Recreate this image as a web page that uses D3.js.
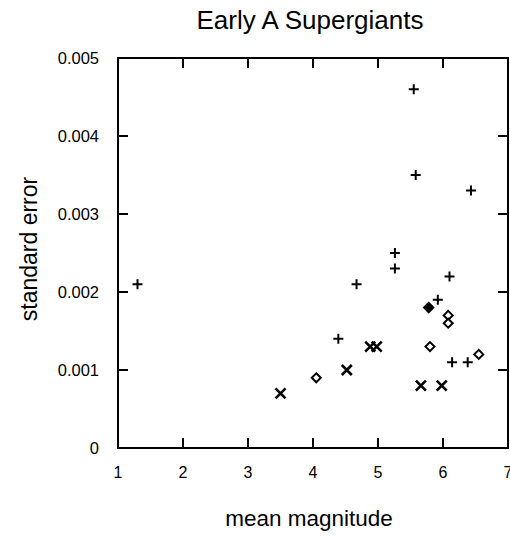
<!DOCTYPE html>
<html>
<head>
<meta charset="utf-8">
<script src="https://cdn.jsdelivr.net/npm/d3@7.9.0/dist/d3.min.js"></script>
<style>
  body { margin: 0; background: #fff; }
  text { font-family: "Liberation Sans", Arial, Helvetica, sans-serif; fill: #000; }
</style>
</head>
<body>
<svg id="chart" width="510" height="536"></svg>
<script>
// star groups: [mean magnitude, standard error]
const plusStars = [
  [1.3, 0.0021], [4.67, 0.0021], [5.55, 0.0046], [5.58, 0.0035],
  [6.43, 0.0033], [5.26, 0.0025], [5.26, 0.0023], [6.1, 0.0022],
  [5.92, 0.0019], [4.39, 0.0014], [6.14, 0.0011], [6.38, 0.0011]
];
const diamondStars = [
  [6.08, 0.0017], [6.08, 0.0016], [5.8, 0.0013], [6.55, 0.0012], [4.05, 0.0009]
];
const filledStars = [[5.78, 0.0018]];
const crossStars = [
  [3.5, 0.0007], [4.52, 0.001], [4.88, 0.0013], [4.98, 0.0013],
  [5.66, 0.0008], [5.98, 0.0008]
];
const xTicks = [1, 2, 3, 4, 5, 6, 7];
const yTicks = [0, 0.001, 0.002, 0.003, 0.004, 0.005];

const margin = { top: 58, right: 2, bottom: 88, left: 118 };
const svg = d3.select('#chart');
const width = 510 - margin.left - margin.right;
const height = 536 - margin.top - margin.bottom;

const x = d3.scaleLinear().domain([1, 7]).range([0, width]);
const y = d3.scaleLinear().domain([0, 0.005]).range([height, 0]);

const g = svg.append('g').attr('transform', `translate(${margin.left},${margin.top})`);

// frame
g.append('rect')
  .attr('width', width).attr('height', height)
  .attr('fill', 'none').attr('stroke', '#000').attr('stroke-width', 2);

// inward ticks on all four sides
const tl = 10;
g.selectAll('.xt').data(xTicks.slice(1, -1)).enter().append('path')
  .attr('d', d => `M${x(d)},${height}v${-tl}M${x(d)},0v${tl}`)
  .attr('stroke', '#000').attr('stroke-width', 2);
g.selectAll('.yt').data(yTicks.slice(1, -1)).enter().append('path')
  .attr('d', d => `M0,${y(d)}h${tl}M${width},${y(d)}h${-tl}`)
  .attr('stroke', '#000').attr('stroke-width', 2);

// tick labels
g.selectAll('.xl').data(xTicks).enter().append('text')
  .attr('x', d => x(d)).attr('y', height + 30)
  .attr('text-anchor', 'middle').style('font-size', '16px')
  .text(d => d);
g.selectAll('.yl').data(yTicks).enter().append('text')
  .attr('x', -19).attr('y', d => y(d)).attr('dy', '0.35em')
  .attr('text-anchor', 'end').style('font-size', '16.5px')
  .text(d => d === 0 ? '0' : d3.format('.3f')(d));

// markers
const pos = d => `translate(${x(d[0])},${y(d[1])})`;
g.selectAll('.plus').data(plusStars).enter().append('path')
  .attr('transform', pos).attr('d', 'M-5,0H5M0,-5V5')
  .attr('stroke', '#000').attr('stroke-width', 2);
g.selectAll('.cross').data(crossStars).enter().append('path')
  .attr('transform', pos).attr('d', 'M-5,-5L5,5M-5,5L5,-5')
  .attr('stroke', '#000').attr('stroke-width', 2.6);
g.selectAll('.dia').data(diamondStars).enter().append('path')
  .attr('transform', pos).attr('d', 'M0,-4.5L4.5,0L0,4.5L-4.5,0Z')
  .attr('fill', '#fff').attr('stroke', '#000').attr('stroke-width', 2);
g.selectAll('.fdia').data(filledStars).enter().append('path')
  .attr('transform', pos).attr('d', 'M0,-5L5,0L0,5L-5,0Z')
  .attr('fill', '#000').attr('stroke', '#000').attr('stroke-width', 1.5);

// titles
svg.append('text').attr('x', 310).attr('y', 29).attr('text-anchor', 'middle')
  .style('font-size', '26px').text('Early A Supergiants');
svg.append('text').attr('x', 309).attr('y', 526).attr('text-anchor', 'middle')
  .style('font-size', '22.5px').text('mean magnitude');
svg.append('text').attr('transform', 'translate(37,249) rotate(-90)')
  .attr('text-anchor', 'middle').style('font-size', '23px').text('standard error');
</script>
</body>
</html>
